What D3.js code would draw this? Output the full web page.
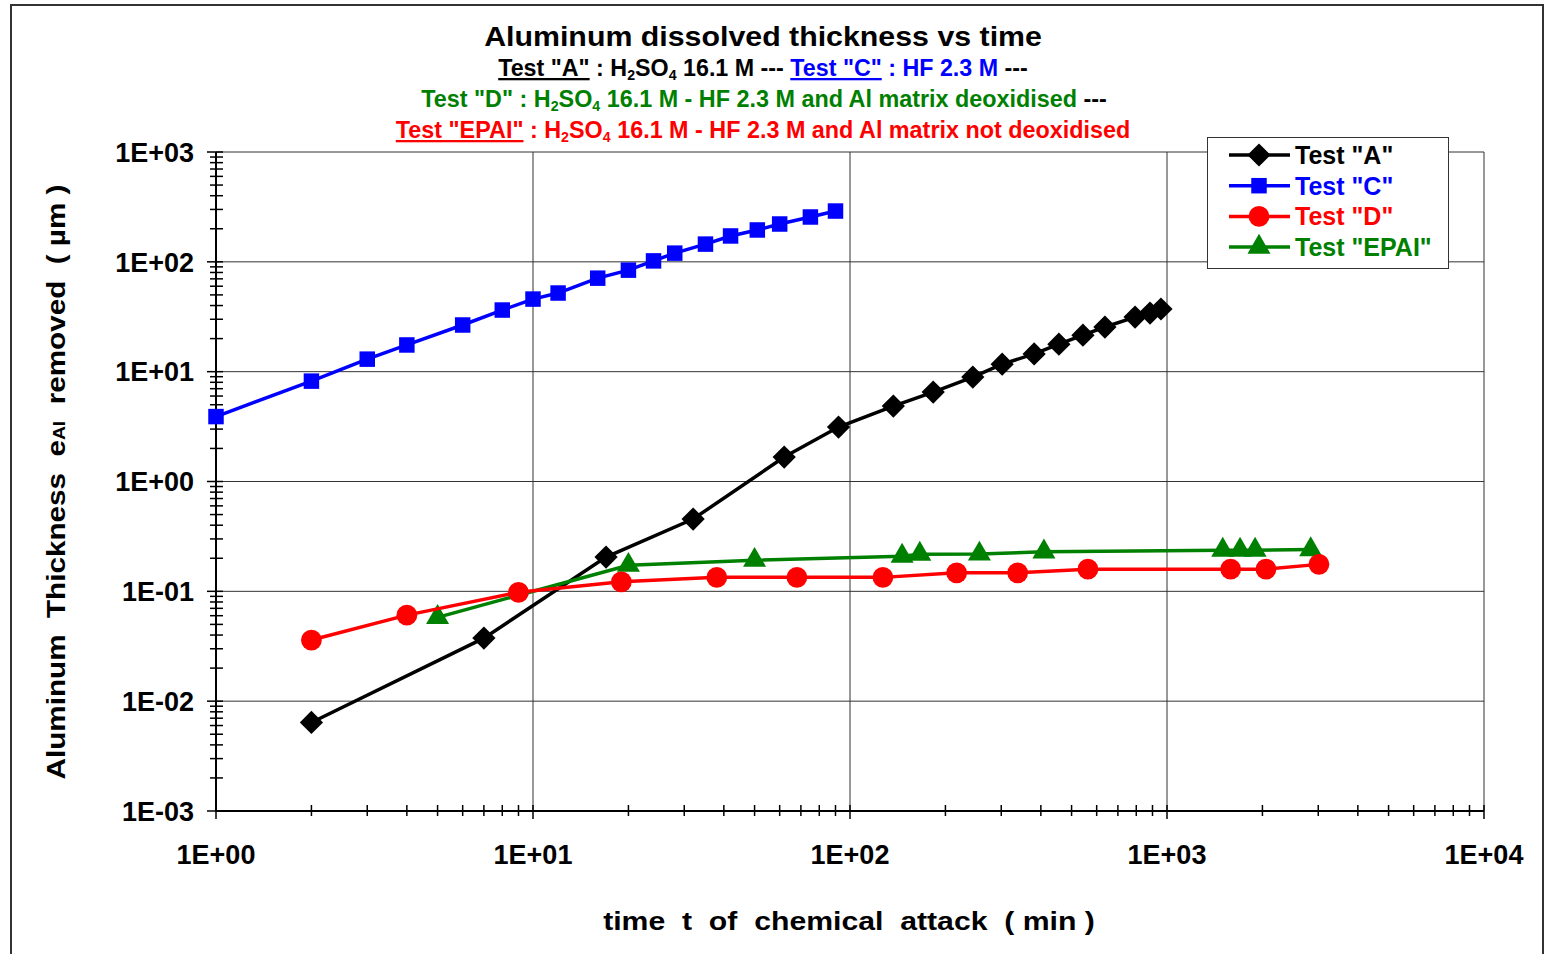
<!DOCTYPE html>
<html>
<head>
<meta charset="utf-8">
<script src="https://cdn.jsdelivr.net/npm/d3@7"></script>
<style>
  body { margin: 0; background: #fff; }
  svg text { font-family: "Liberation Sans", Arial, sans-serif; font-weight: bold; }
  .narrow { font-family: "Liberation Sans Narrow", "Liberation Sans", Arial, sans-serif; }
</style>
</head>
<body>
<div id="graphArea"></div>
<script>
// values (time in min, thickness in µm)
const timeA = [2, 7, 17, 32, 62, 92, 137, 183, 244, 302, 381, 456, 543, 637, 793, 884, 957]
const thickA = [0.0064, 0.0375, 0.205, 0.455, 1.67, 3.13, 4.86, 6.52, 8.93, 11.7, 14.5, 17.8, 21.5, 25.5, 31.4, 34.2, 37.2]

const timeC = [1, 2, 3, 4, 6, 8, 10, 12, 16, 20, 24, 28, 35, 42, 51, 60, 75, 90]
const thickC = [3.9, 8.2, 13.0, 17.5, 26.6, 36.4, 45.8, 52, 71, 84, 102, 120, 145, 172, 195, 221, 256, 290]

const timeD = [2, 4, 9, 19, 38, 68, 127, 217, 338, 563, 1588, 2052, 3015]
const thickD = [0.036, 0.0607, 0.098, 0.122, 0.134, 0.134, 0.134, 0.1475, 0.1475, 0.159, 0.159, 0.159, 0.176]

const timeEPAI = [5, 20, 50, 146, 166, 256, 409, 1499, 1700, 1896, 2840]
const thickEPAI = [0.058, 0.173, 0.192, 0.209, 0.218, 0.219, 0.229, 0.237, 0.237, 0.237, 0.24]

const xTicks = [1, 10, 100, 1000, 10000]
const yTicks = [1e-3, 1e-2, 1e-1, 1, 10, 100, 1000]
const tickLabel = v => "1E" + (v < 1 ? "-" : "+") + String(Math.round(Math.abs(Math.log10(v)))).padStart(2, "0")

const width = 1547, height = 954
const plot = {left: 216, right: 1484, top: 152, bottom: 811}

const svg = d3.select("#graphArea").append("svg")
  .attr("width", width).attr("height", height)

// outer chart border
svg.append("rect")
  .attr("x", 11).attr("y", 5).attr("width", 1532).attr("height", 980)
  .attr("fill", "none").attr("stroke", "#333").attr("stroke-width", 2)

const x = d3.scaleLog().domain([1, 1e4]).range([plot.left, plot.right])
const y = d3.scaleLog().domain([1e-3, 1e3]).range([plot.bottom, plot.top])

// gridlines
svg.append("g").selectAll("line").data(yTicks.slice(1)).join("line")
  .attr("x1", plot.left).attr("x2", plot.right)
  .attr("y1", d => y(d)).attr("y2", d => y(d))
  .attr("stroke", "#333").attr("stroke-width", 1)
svg.append("g").selectAll("line").data(xTicks.slice(1)).join("line")
  .attr("x1", d => x(d)).attr("x2", d => x(d))
  .attr("y1", plot.top).attr("y2", plot.bottom)
  .attr("stroke", "#333").attr("stroke-width", 1)

// minor + major ticks crossing the axes
const yAll = y.ticks()
svg.append("g").selectAll("line").data(yAll).join("line")
  .attr("x1", d => yTicks.includes(d) ? 207 : 210).attr("x2", 223)
  .attr("y1", d => y(d)).attr("y2", d => y(d))
  .attr("stroke", "#000").attr("stroke-width", 1.5)
const xAll = x.ticks()
svg.append("g").selectAll("line").data(xAll).join("line")
  .attr("x1", d => x(d)).attr("x2", d => x(d))
  .attr("y1", 805).attr("y2", d => xTicks.includes(d) ? 819 : 816)
  .attr("stroke", "#000").attr("stroke-width", 1.5)

// axis lines
svg.append("line").attr("x1", plot.left).attr("x2", plot.left)
  .attr("y1", plot.top).attr("y2", plot.bottom).attr("stroke", "#000").attr("stroke-width", 2)
svg.append("line").attr("x1", plot.left).attr("x2", plot.right)
  .attr("y1", plot.bottom).attr("y2", plot.bottom).attr("stroke", "#000").attr("stroke-width", 2)

// tick labels
svg.append("g").selectAll("text").data(yTicks).join("text")
  .attr("x", 194).attr("y", d => y(d)).attr("dy", "0.36em")
  .attr("text-anchor", "end").attr("font-size", 27)
  .text(tickLabel)
svg.append("g").selectAll("text").data(xTicks).join("text")
  .attr("x", d => x(d)).attr("y", 864)
  .attr("text-anchor", "middle").attr("font-size", 27)
  .text(tickLabel)

// squeeze/stretch a centred text to the width seen in the picture
function fitText(sel, cx, cy, w, rot) {
  const bw = sel.node().getBBox().width
  sel.attr("transform", "translate(" + cx + "," + cy + ")" + (rot ? " rotate(" + rot + ")" : "") + " scale(" + (w / bw) + ",1)")
}

// axis titles
const xTitle = svg.append("text").attr("text-anchor", "middle").attr("font-size", 26)
  .style("white-space", "pre").text("time  t  of  chemical  attack  ( min )")
fitText(xTitle, 849, 930, 492)

const yTitle = svg.append("text").attr("text-anchor", "middle").attr("font-size", 26)
  .attr("dy", "0.36em").style("white-space", "pre")
yTitle.append("tspan").text("Aluminum  Thickness  e")
yTitle.append("tspan").attr("font-size", 17).text("Al")
yTitle.append("tspan").text("  removed  ( µm )")
fitText(yTitle, 56, 482, 595, -90)

// chart title + description lines
const title = svg.append("text").attr("text-anchor", "middle").attr("font-size", 27)
  .text("Aluminum dissolved thickness vs time")
fitText(title, 763, 46, 558)

function h2so4(t) {
  t.append("tspan").text("H")
  t.append("tspan").attr("font-size", 14).attr("baseline-shift", "-4").text("2")
  t.append("tspan").text("SO")
  t.append("tspan").attr("font-size", 14).attr("baseline-shift", "-4").text("4")
}

const l2 = svg.append("text").attr("class", "narrow").attr("text-anchor", "middle")
  .attr("font-size", 23).style("white-space", "pre")
l2.append("tspan").attr("fill", "#000").style("text-decoration", "underline").text('Test "A"')
l2.append("tspan").attr("fill", "#000").text(" : ")
h2so4(l2)
l2.append("tspan").attr("fill", "#000").text(" 16.1 M --- ")
l2.append("tspan").attr("fill", "#0000ff").style("text-decoration", "underline").text('Test "C"')
l2.append("tspan").attr("fill", "#0000ff").text(" : HF 2.3 M")
l2.append("tspan").attr("fill", "#000").text(" ---")
fitText(l2, 763, 76, 530)

const l3 = svg.append("text").attr("class", "narrow").attr("text-anchor", "middle")
  .attr("font-size", 23).attr("fill", "#008000").style("white-space", "pre")
l3.append("tspan").text('Test "D" : ')
h2so4(l3)
l3.append("tspan").text(" 16.1 M - HF 2.3 M and Al matrix deoxidised")
l3.append("tspan").attr("fill", "#000").text(" ---")
fitText(l3, 764, 107, 686)

const l4 = svg.append("text").attr("class", "narrow").attr("text-anchor", "middle")
  .attr("font-size", 23).attr("fill", "#ff0000").style("white-space", "pre")
l4.append("tspan").style("text-decoration", "underline").text('Test "EPAI"')
l4.append("tspan").text(" : ")
h2so4(l4)
l4.append("tspan").text(" 16.1 M - HF 2.3 M and Al matrix not deoxidised")
fitText(l4, 763, 138, 735)

// series
const series = [
  {name: 'Test "A"', t: timeA, v: thickA, color: "#000000", shape: "diamond"},
  {name: 'Test "C"', t: timeC, v: thickC, color: "#0000ff", shape: "square"},
  {name: 'Test "EPAI"', t: timeEPAI, v: thickEPAI, color: "#008000", shape: "triangle"},
  {name: 'Test "D"', t: timeD, v: thickD, color: "#ff0000", shape: "circle"}
]

function marker(g, shape, color) {
  if(shape === "diamond") {
    g.append("path").attr("d", d3.symbol(d3.symbolSquare, 270)()).attr("transform", "rotate(45)")
  }
  else if(shape === "square") {
    g.append("path").attr("d", d3.symbol(d3.symbolSquare, 240)())
  }
  else if(shape === "circle") {
    g.append("path").attr("d", d3.symbol(d3.symbolCircle, 340)())
  }
  else {
    g.append("path").attr("d", d3.symbol(d3.symbolTriangle, 230)())
  }
  g.selectAll("path").attr("fill", color)
}

const line = d3.line().x(d => x(d[0])).y(d => y(d[1]))
series.forEach(s => {
  const pts = d3.zip(s.t, s.v)
  svg.append("path").datum(pts)
    .attr("d", line).attr("fill", "none")
    .attr("stroke", s.color).attr("stroke-width", 3.5)
  svg.append("g").selectAll("g").data(pts).join("g")
    .attr("transform", d => "translate(" + x(d[0]) + "," + y(d[1]) + ")")
    .each(function() { marker(d3.select(this), s.shape, s.color) })
})

// legend
const legendOrder = ['Test "A"', 'Test "C"', 'Test "D"', 'Test "EPAI"']
const legend = svg.append("g")
legend.append("rect")
  .attr("x", 1207.5).attr("y", 137.5).attr("width", 241).attr("height", 131)
  .attr("fill", "#fff").attr("stroke", "#333").attr("stroke-width", 1)
legendOrder.forEach((name, i) => {
  const s = series.find(d => d.name === name)
  const ly = 155 + i * 30.7
  legend.append("line").attr("x1", 1229).attr("x2", 1290).attr("y1", ly).attr("y2", ly)
    .attr("stroke", s.color).attr("stroke-width", 3.5)
  const m = legend.append("g").attr("transform", "translate(1259," + ly + ")")
  marker(m, s.shape, s.color)
  legend.append("text").attr("x", 1295).attr("y", ly).attr("dy", "0.36em")
    .attr("font-size", 25).attr("fill", s.color).text(name)
})
</script>
</body>
</html>
